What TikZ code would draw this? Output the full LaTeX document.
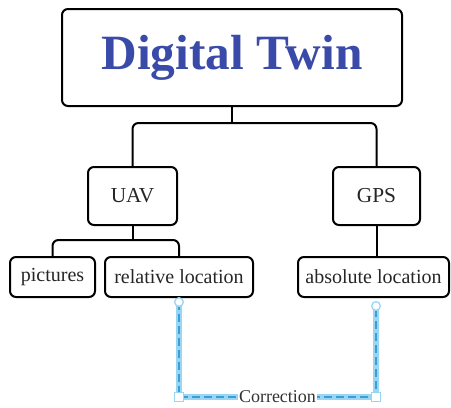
\documentclass[tikz,border=0pt]{standalone}
\usepackage{fontspec}
\setmainfont{Liberation Serif}
\usepackage{tikz}

\definecolor{twinblue}{HTML}{3A4AA8}
\definecolor{selblue}{HTML}{9AD6F2}
\definecolor{dashblue}{HTML}{3A9FD8}

\begin{document}
\begin{tikzpicture}[x=0.75pt,y=-0.75pt,line width=1.5pt]
  \def\r{4.5pt}

\tikzstyle{box}=[draw,rounded corners=\r,inner sep=0pt,font=\fontsize{15}{17}\selectfont,text=black!85]
\tikzstyle{link}=[line width=1.5pt,rounded corners=\r]
\tikzstyle{handle}=[draw=selblue,fill=white,line width=1pt,inner sep=0pt]

\useasboundingbox (0,0) rectangle (451,408);

\node[box][minimum width=255pt,minimum height=72.75pt,text=twinblue,
  font=\fontsize{37}{40}\selectfont\bfseries] (DT) at (232,57.5) {Digital Twin};
\node[box][minimum width=66.75pt,minimum height=43.5pt,font=\fontsize{16}{18}\selectfont] (UAV) at (132.5,196) {UAV};
\node[box][minimum width=65.25pt,minimum height=43.5pt,font=\fontsize{16}{18}\selectfont] (GPS) at (376.5,196) {GPS};
\node[box][minimum width=63.75pt,minimum height=30pt] (Pic) at (52.5,277) {pictures};
\node[box][minimum width=111pt,minimum height=30pt] (Rel) at (179,277) {relative location};
\node[box][minimum width=113.25pt,minimum height=30pt] (Abs) at (373.5,277) {absolute location};

% tree links
\coordinate (J1) at (232,123);
\coordinate (J2) at (132.5,240);
\draw[link] (DT.south) -- (J1);
\draw[link] (UAV.north) |- (J1) -| (GPS.north);
\draw[link] (UAV.south) -- (J2);
\draw[link] (Pic.north) |- (J2) -| (Rel.north);
\draw[link] (GPS.south) -- (GPS.south |- Abs.north);

% correction link (selected)
\coordinate (C1) at (179,302);
\coordinate (C2) at (376,306);
\coordinate (B) at (0,397);
\draw[selblue,line width=4pt] (C1) -- (C1 |- B) -- (C2 |- B) -- (C2);
\draw[dashblue,line width=1pt,dash pattern=on 6pt off 3pt] (C1) -- (C1 |- B)
  -- node[fill=white,inner sep=1pt,text=black!80,font=\fontsize{13.5}{15}\selectfont] (Cor) {Correction}
  (C2 |- B) -- (C2);
\node[handle,circle,minimum size=6.5pt] (H1) at (C1) {};
\node[handle,circle,minimum size=6.5pt] (H2) at (C2) {};
\node[handle,minimum size=6.5pt] (H3) at (C1 |- B) {};
\node[handle,minimum size=6.5pt] (H4) at (C2 |- B) {};
\end{tikzpicture}
\end{document}
